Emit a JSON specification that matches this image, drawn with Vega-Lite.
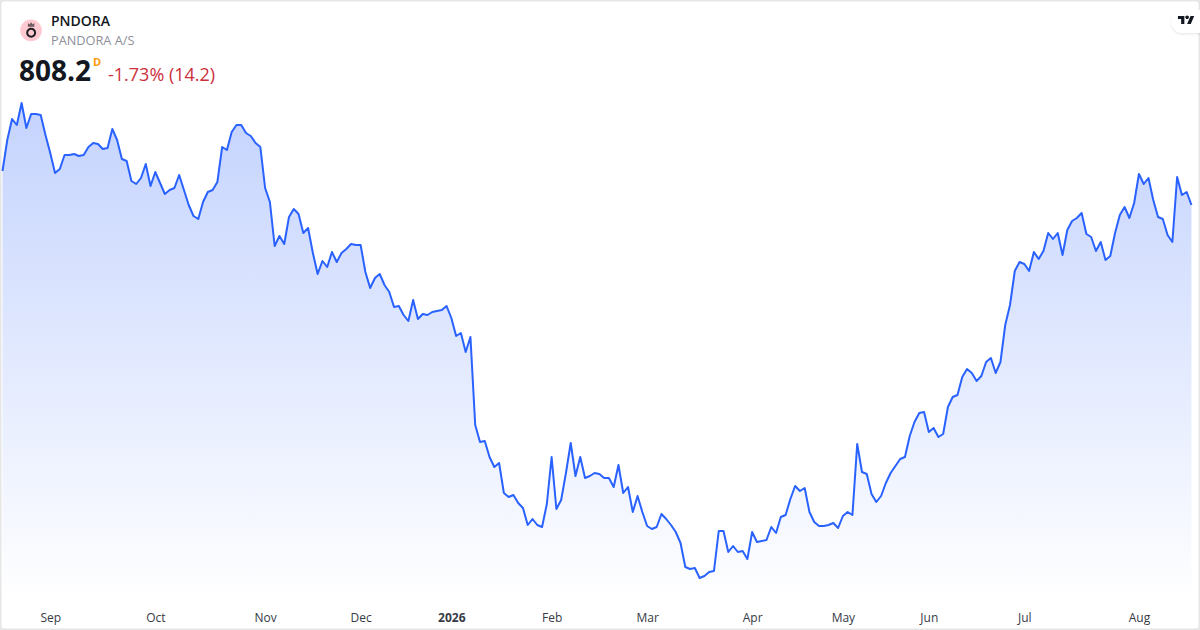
{
"$schema":"https://vega.github.io/schema/vega-lite/v6.json",
"width":1200,"height":630,"padding":0,"autosize":{"type":"none"},"background":"white",
"view":{"stroke":"#e6e6e6","strokeWidth":3,"cornerRadius":4,"fill":"white"},
"datasets":{"prices":[
{"i":0,"p":845.6},{"i":1,"p":879.7},{"i":2,"p":902.8},{"i":3,"p":896.2},{"i":4,"p":920.4},{"i":5,"p":892.9},{"i":6,"p":908.3},{"i":7,"p":908.3},{"i":8,"p":907.2},{"i":9,"p":885.2},
{"i":10,"p":865.4},{"i":11,"p":843.4},{"i":12,"p":847.8},{"i":13,"p":863.2},{"i":14,"p":863.2},{"i":15,"p":864.3},{"i":16,"p":862.1},{"i":17,"p":863.2},{"i":18,"p":872.0},{"i":19,"p":876.4},
{"i":20,"p":875.3},{"i":21,"p":869.8},{"i":22,"p":870.9},{"i":23,"p":891.8},{"i":24,"p":879.7},{"i":25,"p":858.8},{"i":26,"p":856.6},{"i":27,"p":834.6},{"i":28,"p":831.3},{"i":29,"p":837.9},
{"i":30,"p":853.3},{"i":31,"p":829.1},{"i":32,"p":844.5},{"i":33,"p":832.4},{"i":34,"p":820.3},{"i":35,"p":824.7},{"i":36,"p":826.9},{"i":37,"p":841.2},{"i":38,"p":824.7},{"i":39,"p":808.2},
{"i":40,"p":796.1},{"i":41,"p":792.8},{"i":42,"p":811.5},{"i":43,"p":822.5},{"i":44,"p":824.7},{"i":45,"p":833.5},{"i":46,"p":872.0},{"i":47,"p":868.7},{"i":48,"p":888.5},{"i":49,"p":896.2},
{"i":50,"p":896.2},{"i":51,"p":887.4},{"i":52,"p":884.1},{"i":53,"p":876.4},{"i":54,"p":872.0},{"i":55,"p":826.9},{"i":56,"p":811.5},{"i":57,"p":763.1},{"i":58,"p":774.1},{"i":59,"p":765.3},
{"i":60,"p":795.0},{"i":61,"p":803.8},{"i":62,"p":798.3},{"i":63,"p":777.4},{"i":64,"p":782.9},{"i":65,"p":755.4},{"i":66,"p":732.3},{"i":67,"p":746.6},{"i":68,"p":740.0},{"i":69,"p":756.5},
{"i":70,"p":745.5},{"i":71,"p":755.4},{"i":72,"p":759.8},{"i":73,"p":765.3},{"i":74,"p":764.2},{"i":75,"p":764.2},{"i":76,"p":734.5},{"i":77,"p":716.9},{"i":78,"p":727.9},{"i":79,"p":732.3},
{"i":80,"p":720.2},{"i":81,"p":712.5},{"i":82,"p":696.0},{"i":83,"p":697.1},{"i":84,"p":687.2},{"i":85,"p":680.6},{"i":86,"p":703.7},{"i":87,"p":682.8},{"i":88,"p":688.3},{"i":89,"p":687.2},
{"i":90,"p":690.5},{"i":91,"p":691.6},{"i":92,"p":692.7},{"i":93,"p":697.1},{"i":94,"p":683.9},{"i":95,"p":664.1},{"i":96,"p":667.4},{"i":97,"p":646.5},{"i":98,"p":663.0},{"i":99,"p":566.2},
{"i":100,"p":547.5},{"i":101,"p":548.6},{"i":102,"p":531.0},{"i":103,"p":520.0},{"i":104,"p":524.4},{"i":105,"p":491.4},{"i":106,"p":487.0},{"i":107,"p":489.2},{"i":108,"p":480.4},{"i":109,"p":474.9},
{"i":110,"p":456.2},{"i":111,"p":462.8},{"i":112,"p":456.2},{"i":113,"p":454.0},{"i":114,"p":479.3},{"i":115,"p":531.0},{"i":116,"p":473.8},{"i":117,"p":483.7},{"i":118,"p":513.4},{"i":119,"p":546.4},
{"i":120,"p":510.1},{"i":121,"p":531.0},{"i":122,"p":507.9},{"i":123,"p":510.1},{"i":124,"p":513.4},{"i":125,"p":512.3},{"i":126,"p":507.9},{"i":127,"p":507.9},{"i":128,"p":498.0},{"i":129,"p":522.2},
{"i":130,"p":491.4},{"i":131,"p":498.0},{"i":132,"p":470.5},{"i":133,"p":488.1},{"i":134,"p":470.5},{"i":135,"p":455.1},{"i":136,"p":451.8},{"i":137,"p":454.0},{"i":138,"p":468.3},{"i":139,"p":462.8},
{"i":140,"p":456.2},{"i":141,"p":448.5},{"i":142,"p":436.4},{"i":143,"p":410.0},{"i":144,"p":407.8},{"i":145,"p":408.9},{"i":146,"p":397.9},{"i":147,"p":400.1},{"i":148,"p":404.5},{"i":149,"p":405.6},
{"i":150,"p":449.6},{"i":151,"p":449.6},{"i":152,"p":426.5},{"i":153,"p":433.1},{"i":154,"p":426.5},{"i":155,"p":427.6},{"i":156,"p":418.8},{"i":157,"p":448.5},{"i":158,"p":437.5},{"i":159,"p":438.6},
{"i":160,"p":439.7},{"i":161,"p":454.0},{"i":162,"p":447.4},{"i":163,"p":465.0},{"i":164,"p":467.2},{"i":165,"p":484.8},{"i":166,"p":499.1},{"i":167,"p":493.6},{"i":168,"p":496.9},{"i":169,"p":470.5},
{"i":170,"p":459.5},{"i":171,"p":455.1},{"i":172,"p":455.1},{"i":173,"p":456.2},{"i":174,"p":458.4},{"i":175,"p":452.9},{"i":176,"p":466.1},{"i":177,"p":470.5},{"i":178,"p":467.2},{"i":179,"p":545.3},
{"i":180,"p":514.5},{"i":181,"p":512.3},{"i":182,"p":490.3},{"i":183,"p":481.5},{"i":184,"p":488.1},{"i":185,"p":502.4},{"i":186,"p":513.4},{"i":187,"p":521.1},{"i":188,"p":528.8},{"i":189,"p":531.0},
{"i":190,"p":554.1},{"i":191,"p":569.5},{"i":192,"p":579.4},{"i":193,"p":580.5},{"i":194,"p":558.5},{"i":195,"p":562.9},{"i":196,"p":553.0},{"i":197,"p":556.3},{"i":198,"p":586.0},{"i":199,"p":597.0},
{"i":200,"p":599.2},{"i":201,"p":619.0},{"i":202,"p":627.8},{"i":203,"p":623.4},{"i":204,"p":614.6},{"i":205,"p":620.1},{"i":206,"p":635.5},{"i":207,"p":639.9},{"i":208,"p":623.4},{"i":209,"p":635.5},
{"i":210,"p":676.2},{"i":211,"p":698.2},{"i":212,"p":735.6},{"i":213,"p":745.5},{"i":214,"p":743.3},{"i":215,"p":735.6},{"i":216,"p":756.5},{"i":217,"p":748.8},{"i":218,"p":757.6},{"i":219,"p":777.4},
{"i":220,"p":770.8},{"i":221,"p":777.4},{"i":222,"p":753.2},{"i":223,"p":780.7},{"i":224,"p":790.6},{"i":225,"p":793.9},{"i":226,"p":799.4},{"i":227,"p":776.3},{"i":228,"p":773.0},{"i":229,"p":757.6},
{"i":230,"p":767.5},{"i":231,"p":747.7},{"i":232,"p":752.1},{"i":233,"p":777.4},{"i":234,"p":797.2},{"i":235,"p":806.0},{"i":236,"p":793.9},{"i":237,"p":810.4},{"i":238,"p":842.3},{"i":239,"p":831.3},
{"i":240,"p":837.9},{"i":241,"p":813.7},{"i":242,"p":795.0},{"i":243,"p":792.8},{"i":244,"p":775.2},{"i":245,"p":767.5},{"i":246,"p":839.0},{"i":247,"p":819.2},{"i":248,"p":822.5},{"i":249,"p":808.2}
]},
"data":{"name":"prices"},
"layer":[
{"mark":{"type":"area","line":false,"fill":{"x1":0,"y1":0,"x2":0,"y2":1,"gradient":"linear","stops":[{"offset":0,"color":"#c4d3fe"},{"offset":1,"color":"#ffffff"}]}},
 "encoding":{
  "x":{"field":"i","type":"quantitative","title":null,"scale":{"domain":[-0.524,250.79],"nice":false,"zero":false},
   "axis":{"values":[10,32,55,75,94,115,135,157,176,194,214,238],"labelExpr":"{10:'Sep',32:'Oct',55:'Nov',75:'Dec',94:'2026',115:'Feb',135:'Mar',157:'Apr',176:'May',194:'Jun',214:'Jul',238:'Aug'}[datum.value]","domain":false,"ticks":false,"grid":false,"offset":-22,"labelPadding":4,"labelFont":"Open Sans","labelFontSize":12,"labelColor":"#363a45","labelFontWeight":{"expr":"datum.value==94?'bold':'normal'"},"labelOverlap":false,"labelFlush":false,"labelBound":false}},
  "y":{"field":"p","type":"quantitative","title":null,"axis":null,"scale":{"domain":[340.7,1033.7],"nice":false,"zero":false}},
  "y2":{"datum":371.5}
 }},
{"mark":{"type":"line","color":"#2962ff","strokeWidth":2,"strokeJoin":"round"},
 "encoding":{"x":{"field":"i","type":"quantitative"},"y":{"field":"p","type":"quantitative"}}},
{"data":{"values":[{"n":1}]},"layer":[
 {"mark":{"type":"rule","stroke":"#000000","strokeOpacity":0.03,"strokeWidth":25,"strokeCap":"round"},"encoding":{"x":{"datum":247.1,"type":"quantitative"},"x2":{"datum":254},"y":{"datum":1008.2,"type":"quantitative"}}},
 {"mark":{"type":"rule","stroke":"#000000","strokeOpacity":0.04,"strokeWidth":23,"strokeCap":"round"},"encoding":{"x":{"datum":247.1,"type":"quantitative"},"x2":{"datum":254},"y":{"datum":1008.9,"type":"quantitative"}}},
 {"mark":{"type":"rule","stroke":"#ffffff","strokeWidth":23,"strokeCap":"round"},"encoding":{"x":{"datum":247.1,"type":"quantitative"},"x2":{"datum":254},"y":{"datum":1010.05,"type":"quantitative"}}},
 {"mark":{"type":"point","filled":true,"fill":"#131722","stroke":null,"opacity":1,"size":272,"shape":"M-0.222,0.5H-0.611V-0.111H-1V-0.5H-0.222ZM0.556,0.5H0.111L0.528,-0.5H0.972ZM-0.111,-0.333a0.222,0.222 0 1 0 0.444,0a0.222,0.222 0 1 0 -0.444,0Z"},"encoding":{"x":{"datum":247.9,"type":"quantitative"},"y":{"datum":1011.7,"type":"quantitative"}}},
 {"mark":{"type":"point","filled":true,"fill":"#ffc9d2","opacity":1,"size":470,"shape":"circle"},"encoding":{"x":{"datum":5.97,"type":"quantitative"},"y":{"datum":1000.3,"type":"quantitative"}}},
 {"mark":{"type":"point","filled":false,"stroke":"#1f1f23","opacity":1,"strokeWidth":2,"size":63,"shape":"circle"},"encoding":{"x":{"datum":6.0,"type":"quantitative"},"y":{"datum":997.7,"type":"quantitative"}}},
 {"mark":{"type":"point","filled":true,"fill":"#6b5a60","stroke":null,"opacity":1,"size":42,"shape":"M-1,0.7V-0.5L-0.5,0L0,-0.7L0.5,0L1,-0.5V0.7Z"},"encoding":{"x":{"datum":6.0,"type":"quantitative"},"y":{"datum":1006.7,"type":"quantitative"}}},
 {"mark":{"type":"text","text":"PNDORA","align":"left","baseline":"alphabetic","font":"Open Sans","fontSize":14,"fontWeight":600,"color":"#131722"},"encoding":{"x":{"datum":10.157,"type":"quantitative"},"y":{"datum":1005.1,"type":"quantitative"}}},
 {"mark":{"type":"text","text":"PANDORA A/S","align":"left","baseline":"alphabetic","font":"Open Sans","fontSize":12.75,"color":"#8c8f99"},"encoding":{"x":{"datum":10.157,"type":"quantitative"},"y":{"datum":984.2,"type":"quantitative"}}},
 {"mark":{"type":"text","text":"808.2","align":"left","baseline":"alphabetic","font":"Open Sans","fontSize":28,"fontWeight":700,"color":"#131722"},"encoding":{"x":{"datum":3.455,"type":"quantitative"},"y":{"datum":944.6,"type":"quantitative"}}},
 {"mark":{"type":"text","text":"D","align":"left","baseline":"alphabetic","font":"Open Sans","fontSize":11,"fontWeight":700,"color":"#ff9800"},"encoding":{"x":{"datum":18.95,"type":"quantitative"},"y":{"datum":961.1,"type":"quantitative"}}},
 {"mark":{"type":"text","text":"-1.73% (14.2)","align":"left","baseline":"alphabetic","font":"Open Sans","fontSize":18,"color":"#cc2f3c"},"encoding":{"x":{"datum":22.09,"type":"quantitative"},"y":{"datum":944.6,"type":"quantitative"}}}
]}
]
}
